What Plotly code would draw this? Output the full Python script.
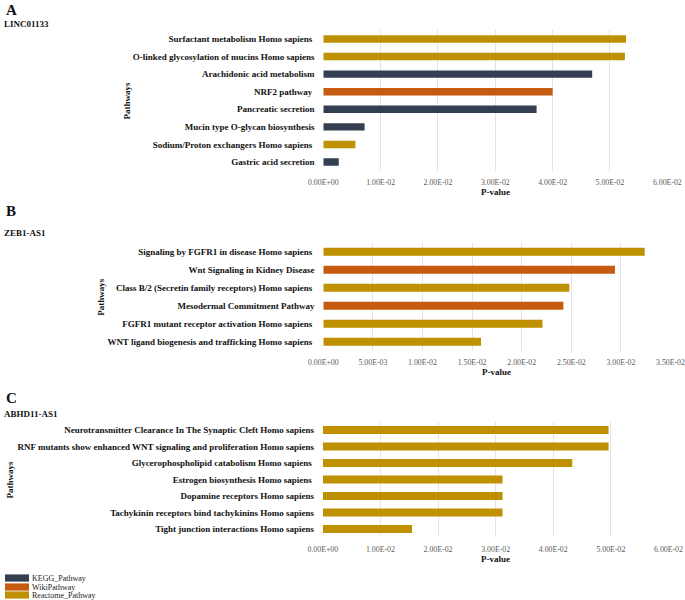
import plotly.graph_objects as go

W, H = 685, 600

# ---------- data ----------
type_colors = {"KEGG_Pathway": "#333F50", "WikiPathway": "#C55A11", "Reactome_Pathway": "#BF9000"}
legend_types = ["KEGG_Pathway", "WikiPathway", "Reactome_Pathway"]

a_pathways = ["Surfactant metabolism Homo sapiens ", "O-linked glycosylation of mucins Homo sapiens",
              "Arachidonic acid metabolism", "NRF2 pathway ", "Pancreatic secretion",
              "Mucin type O-glycan biosynthesis", "Sodium/Proton exchangers Homo sapiens ",
              "Gastric acid secretion"]
a_pvalues = [0.0528, 0.0526, 0.0469, 0.0400, 0.0372, 0.0072, 0.0056, 0.0027]
a_types = ["Reactome_Pathway", "Reactome_Pathway", "KEGG_Pathway", "WikiPathway", "KEGG_Pathway",
           "KEGG_Pathway", "Reactome_Pathway", "KEGG_Pathway"]
a_ticks = [0, 0.01, 0.02, 0.03, 0.04, 0.05, 0.06]
a_ticktext = ["0.00E+00", "1.00E-02", "2.00E-02", "3.00E-02", "4.00E-02", "5.00E-02", "6.00E-02"]

b_pathways = ["Signaling by FGFR1 in disease Homo sapiens ", "Wnt Signaling in Kidney Disease",
              "Class B/2 (Secretin family receptors) Homo sapiens ", "Mesodermal Commitment Pathway",
              "FGFR1 mutant receptor activation Homo sapiens ", "WNT ligand biogenesis and trafficking Homo sapiens "]
b_pvalues = [0.0324, 0.0294, 0.0248, 0.0242, 0.0221, 0.0159]
b_types = ["Reactome_Pathway", "WikiPathway", "Reactome_Pathway", "WikiPathway",
           "Reactome_Pathway", "Reactome_Pathway"]
b_ticks = [0, 0.005, 0.01, 0.015, 0.02, 0.025, 0.03, 0.035]
b_ticktext = ["0.00E+00", "5.00E-03", "1.00E-02", "1.50E-02", "2.00E-02", "2.50E-02", "3.00E-02", "3.50E-02"]

c_pathways = ["Neurotransmitter Clearance In The Synaptic Cleft Homo sapiens",
              "RNF mutants show enhanced WNT signaling and proliferation Homo sapiens",
              "Glycerophospholipid catabolism Homo sapiens ", "Estrogen biosynthesis Homo sapiens ",
              "Dopamine receptors Homo sapiens", "Tachykinin receptors bind tachykinins Homo sapiens",
              "Tight junction interactions Homo sapiens"]
c_pvalues = [0.0496, 0.0496, 0.0433, 0.0312, 0.0312, 0.0312, 0.0155]
c_types = ["Reactome_Pathway"] * 7
c_ticks = a_ticks
c_ticktext = a_ticktext

panels = [
    dict(letter="A", gene="LINC01133", names=a_pathways, vals=a_pvalues, types=a_types,
         ticks=a_ticks, ticktext=a_ticktext, xr=[0, 0.06], px_x=(323.3, 667.3), px_y=(30.2, 170.8),
         letter_y=10, gene_y=24, path_x=127, xt_y=192, bw=0.42),
    dict(letter="B", gene="ZEB1-AS1", names=b_pathways, vals=b_pvalues, types=b_types,
         ticks=b_ticks, ticktext=b_ticktext, xr=[0, 0.035], px_x=(323.3, 670.5), px_y=(242.7, 350.7),
         letter_y=211, gene_y=233, path_x=101, xt_y=372, bw=0.44),
    dict(letter="C", gene="ABHD11-AS1", names=c_pathways, vals=c_pvalues, types=c_types,
         ticks=c_ticks, ticktext=c_ticktext, xr=[0, 0.06], px_x=(322.8, 668.5), px_y=(421.75, 537.25),
         letter_y=398, gene_y=414, path_x=9, xt_y=559, bw=0.48),
]

FONT = "Liberation Serif"
fig = go.Figure()
annotations = []
shapes = []
layout = {}

for i, p in enumerate(panels):
    n = i + 1
    xa = "x" if n == 1 else f"x{n}"
    ya = "y" if n == 1 else f"y{n}"
    fig.add_trace(go.Bar(
        x=p["vals"], y=p["names"], orientation="h",
        marker=dict(color=[type_colors[t] for t in p["types"]], line=dict(width=0)),
        width=p["bw"], xaxis=xa, yaxis=ya, showlegend=False, hoverinfo="x+y",
    ))
    x0, x1 = p["px_x"]
    y0, y1 = p["px_y"]
    layout[f"xaxis{'' if n == 1 else n}"] = dict(
        domain=[x0 / W, x1 / W], range=p["xr"], anchor=ya, automargin=False,
        tickvals=p["ticks"], ticktext=p["ticktext"],
        tickfont=dict(family=FONT, size=7.8, color="#595959"),
        showgrid=True, gridcolor="#E3E3E3", gridwidth=1, zeroline=False,
        showline=False, ticks="outside", ticklen=4, tickcolor="rgba(0,0,0,0)",
    )
    layout[f"yaxis{'' if n == 1 else n}"] = dict(
        domain=[1 - y1 / H, 1 - y0 / H], anchor=xa, type="category", automargin=False,
        categoryorder="array", categoryarray=list(reversed(p["names"])),
        autorange=True,
        tickfont=dict(family=FONT, size=9, color="#111111", weight="bold"),
        showgrid=False, zeroline=False, showline=False,
        ticks="outside", ticklen=6, tickcolor="rgba(0,0,0,0)",
    )
    # panel letter and gene name
    annotations.append(dict(text=f"<b>{p['letter']}</b>", x=4 / W, y=1 - p["letter_y"] / H,
                            xref="paper", yref="paper", xanchor="left", yanchor="middle",
                            showarrow=False, font=dict(family=FONT, size=15, color="#111")))
    annotations.append(dict(text=f"<b>{p['gene']}</b>", x=2 / W, y=1 - p["gene_y"] / H,
                            xref="paper", yref="paper", xanchor="left", yanchor="middle",
                            showarrow=False, font=dict(family=FONT, size=9, color="#111")))
    annotations.append(dict(text="<b>Pathways</b>", x=p["path_x"] / W, y=1 - (y0 + y1) / 2 / H,
                            xref="paper", yref="paper", xanchor="center", yanchor="middle",
                            textangle=-90, showarrow=False, font=dict(family=FONT, size=9, color="#111")))
    annotations.append(dict(text="<b>P-value</b>", x=(x0 + x1) / 2 / W, y=1 - p["xt_y"] / H,
                            xref="paper", yref="paper", xanchor="center", yanchor="middle",
                            showarrow=False, font=dict(family=FONT, size=9, color="#111")))

# legend
leg_y = [578, 587, 595]
for t, ly in zip(legend_types, leg_y):
    shapes.append(dict(type="rect", xref="paper", yref="paper",
                       x0=5 / W, x1=29 / W, y0=1 - (ly + 3.6) / H, y1=1 - (ly - 3.6) / H,
                       fillcolor=type_colors[t], line=dict(width=0)))
    annotations.append(dict(text=t, x=30 / W, y=1 - ly / H, xref="paper", yref="paper",
                            xanchor="left", yanchor="middle", showarrow=False,
                            font=dict(family=FONT, size=8, color="#222")))

fig.update_layout(
    width=W, height=H, margin=dict(l=0, r=0, t=0, b=0, autoexpand=False),
    plot_bgcolor="white", paper_bgcolor="white",
    bargap=0.5, annotations=annotations, shapes=shapes, **layout,
)

fig.write_html("out.html", config={"displayModeBar": False},
               post_script="document.body.style.margin='0px';")
